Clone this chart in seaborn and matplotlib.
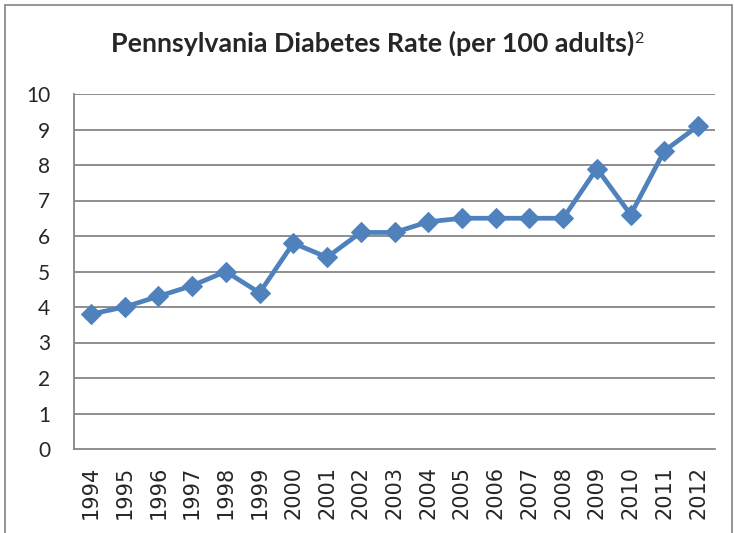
import matplotlib
matplotlib.use("Agg")
import matplotlib.pyplot as plt
import seaborn as sns
import pandas as pd
from matplotlib.patches import Rectangle

years = [str(y) for y in range(1994, 2013)]
rates = [3.8, 4.0, 4.3, 4.6, 5.0, 4.4, 5.8, 5.4, 6.1, 6.1, 6.4, 6.5, 6.5, 6.5, 6.5, 7.9, 6.6, 8.4, 9.1]
yticks = list(range(0, 11))

sns.set_theme(style="white")
plt.rcParams['font.family'] = ['Lato', 'DejaVu Sans']

df = pd.DataFrame({"year": years, "rate": rates, "x": range(len(years))})

fig = plt.figure(figsize=(7.34, 5.33), dpi=100)
ax = fig.add_axes([74/734, 1-449/533, (715-74)/734, (449-94)/533])

# outer frame
fig.patches.append(Rectangle((5/734, -0.01), (732-5)/734, 1-5/533+0.01, transform=fig.transFigure,
                             fill=False, edgecolor='#8c8c8c', linewidth=1.3))

sns.lineplot(data=df, x="x", y="rate", ax=ax, color='#4F81BD', linewidth=3.4,
             marker='D', markersize=10, markeredgecolor='#4F81BD', markerfacecolor='#4F81BD')

ax.set_xlim(-0.5, len(years) - 0.5)
ax.set_ylim(0, 10)
ax.set_yticks(yticks)
ax.set_yticklabels([str(v) for v in yticks], fontsize=15)
ax.set_xticks(range(len(years)))
ax.set_xticklabels(years, rotation=90, fontsize=15, family=['DejaVu Sans'])
ax.set_xticks([i - 0.5 for i in range(len(years) + 1)], minor=True)
ax.tick_params(axis='x', which='major', length=0, pad=12)
ax.tick_params(axis='x', which='minor', length=6, color='#868686', width=1.2, direction='out')
ax.tick_params(axis='y', length=6, color='#868686', width=1.2, direction='out', pad=11)
ax.set_xlabel("")
ax.set_ylabel("")
for v in yticks[1:]:
    ax.axhline(v, color='#868686', linewidth=1.3, zorder=0)
for s in ['top', 'right']:
    ax.spines[s].set_visible(False)
for s in ['left', 'bottom']:
    ax.spines[s].set_color('#868686')
    ax.spines[s].set_linewidth(1.3)

t = fig.text(111/734, 1-52/533, "Pennsylvania Diabetes Rate (per 100 adults)",
             ha='left', va='baseline', fontsize=19.3, fontweight='bold')
ax.annotate("2", xy=(1, 1), xycoords=t, xytext=(0, -0.5), textcoords='offset points',
            ha='left', va='top', fontsize=11.5)

fig.savefig("out.png", dpi=100)
